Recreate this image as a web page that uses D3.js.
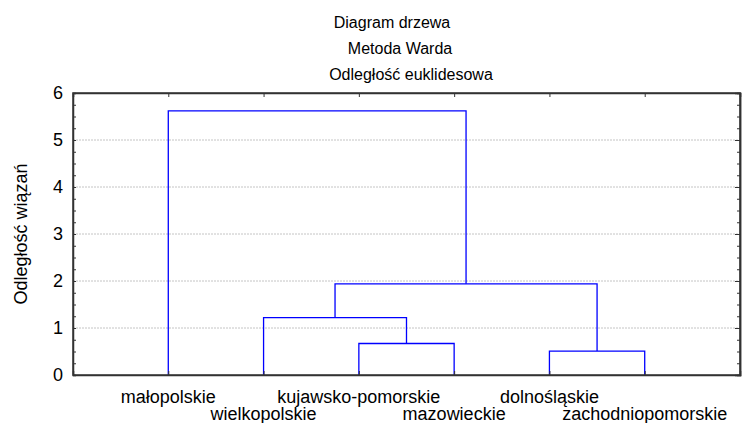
<!DOCTYPE html>
<html>
<head>
<meta charset="utf-8">
<script src="https://cdn.jsdelivr.net/npm/d3@7"></script>
<style>
  body { margin: 0; background: #fff; }
  svg { font-family: "Liberation Sans", Arial, sans-serif; }
</style>
</head>
<body>
<svg width="742" height="423"></svg>
<script>
"use strict";

// leaves in dendrogram order
const leaves = ["małopolskie", "wielkopolskie", "kujawsko-pomorskie", "mazowieckie", "dolnośląskie", "zachodniopomorskie"];

// linkage: node 6 + i joins mergeA[i] and mergeB[i] at mergeHeight[i]
const mergeA = [4, 2, 1, 8, 0];
const mergeB = [5, 3, 7, 6, 9];
const mergeHeight = [0.51, 0.67, 1.22, 1.94, 5.62];

const yTicks = [0, 1, 2, 3, 4, 5, 6];
const titles = ["Diagram drzewa", "Metoda Warda", "Odległość euklidesowa"];

window.addEventListener("load", drawGraph);

function drawGraph() {
  const svg = d3.select("svg");
  const margin = { top: 93, right: 2, bottom: 48, left: 73 };
  const width = 742 - margin.left - margin.right;
  const height = 423 - margin.top - margin.bottom;

  const x = d3.scaleLinear().domain([0, leaves.length + 1]).range([0, width]);
  const y = d3.scaleLinear().domain([0, 6]).range([height, 0]);

  const g = svg.append("g").attr("transform", `translate(${margin.left},${margin.top})`);

  // grid
  g.selectAll(".grid")
    .data(yTicks.filter((t) => t > 0 && t < 6))
    .enter()
    .append("line")
    .attr("x1", 0)
    .attr("x2", width)
    .attr("y1", (d) => y(d))
    .attr("y2", (d) => y(d))
    .attr("stroke", "#c4c4c4")
    .attr("stroke-dasharray", "2,1");

  // node positions
  const nodeX = leaves.map((d, i) => x(i + 1));
  const nodeH = leaves.map(() => 0);
  mergeA.forEach((a, i) => {
    const b = mergeB[i];
    nodeX.push((nodeX[a] + nodeX[b]) / 2);
    nodeH.push(mergeHeight[i]);
  });

  g.selectAll(".link")
    .data(mergeA.map((a, i) => ({ a: a, b: mergeB[i], h: mergeHeight[i] })))
    .enter()
    .append("path")
    .attr("class", "link")
    .attr("fill", "none")
    .attr("stroke", "#0000ff")
    .attr("stroke-width", 1.3)
    .attr("d", (d) =>
      `M${nodeX[d.a]},${y(nodeH[d.a])}V${y(d.h)}H${nodeX[d.b]}V${y(nodeH[d.b])}`
    );

  // axes with inward ticks
  const minor = d3.range(0, 6.01, 0.25);
  const leftMinor = d3.axisRight(y).tickValues(minor).tickSize(3).tickFormat("");
  const rightMinor = d3.axisLeft(y).tickValues(minor).tickSize(3).tickFormat("");
  const rightMajor = d3.axisLeft(y).tickValues(yTicks).tickSize(5).tickFormat("");

  g.append("g").call(leftMinor);
  g.append("g").attr("transform", `translate(${width},0)`).call(rightMinor);
  g.append("g").attr("transform", `translate(${width},0)`).call(rightMajor);

  const yLabels = g.append("g")
    .call(d3.axisLeft(y).tickValues(yTicks).tickSize(0).tickPadding(10).tickFormat(d3.format("d")));
  yLabels.selectAll("text").style("font-size", "18px").attr("fill", "#000");
  yLabels.select(".domain").remove();

  const leafIdx = leaves.map((d, i) => i + 1);
  g.append("g").attr("transform", `translate(0,${height})`)
    .call(d3.axisTop(x).tickValues(leafIdx).tickSize(4).tickFormat(""));
  g.append("g")
    .call(d3.axisBottom(x).tickValues(leafIdx).tickSize(4).tickFormat(""));

  g.selectAll(".domain").attr("stroke", "#333").attr("stroke-width", 1.5);
  g.selectAll(".tick line").attr("stroke", "#333");

  // frame
  g.append("rect")
    .attr("width", width)
    .attr("height", height)
    .attr("fill", "none")
    .attr("stroke", "#333")
    .attr("stroke-width", 1.5);

  // leaf labels, alternating rows
  g.selectAll(".leaf")
    .data(leaves)
    .enter()
    .append("text")
    .attr("class", "leaf")
    .attr("x", (d, i) => x(i + 1))
    .attr("y", (d, i) => height + (i % 2 === 0 ? 28 : 45))
    .attr("text-anchor", "middle")
    .style("font-size", "18px")
    .text((d) => d);

  // y label
  svg.append("text")
    .attr("transform", `translate(27,${margin.top + height / 2}) rotate(-90)`)
    .attr("text-anchor", "middle")
    .style("font-size", "18px")
    .text("Odległość wiązań");

  // titles
  const titleX = [392, 400, 411];
  const titleY = [28, 54, 80];
  svg.selectAll(".title")
    .data(titles)
    .enter()
    .append("text")
    .attr("class", "title")
    .attr("x", (d, i) => titleX[i])
    .attr("y", (d, i) => titleY[i])
    .attr("text-anchor", "middle")
    .style("font-size", "16px")
    .text((d) => d);
}
</script>
</body>
</html>
